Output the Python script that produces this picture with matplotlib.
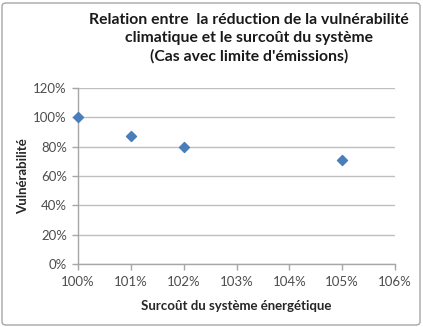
import matplotlib.pyplot as plt
from matplotlib.patches import FancyBboxPatch
from matplotlib.ticker import PercentFormatter

# Data: system extra cost vs climate vulnerability
surcout = [1.00, 1.01, 1.02, 1.05]
vulnerabilite = [1.00, 0.87, 0.80, 0.71]
x_ticks = [1.00, 1.01, 1.02, 1.03, 1.04, 1.05, 1.06]
y_ticks = [0.0, 0.2, 0.4, 0.6, 0.8, 1.0, 1.2]

plt.rcParams['font.family'] = ['Lato', 'DejaVu Sans']

W, H = 423, 327
fig = plt.figure(figsize=(W / 100, H / 100), dpi=100)

# Outer chart frame
frame = FancyBboxPatch((2 / W, 2 / H), (W - 5) / W, (H - 5) / H,
                       boxstyle="round,pad=0,rounding_size=0.01",
                       transform=fig.transFigure, facecolor='white',
                       edgecolor='#a6a6a6', linewidth=1.0, zorder=-5)
fig.patches.append(frame)

left, right, top, bottom = 78, 395, 88, 264
ax = fig.add_axes([left / W, 1 - bottom / H, (right - left) / W, (bottom - top) / H])
ax.set_zorder(2)
ax.set_facecolor('none')

ax.scatter(surcout, vulnerabilite, marker='D', s=26, color='#4a7ebb',
           edgecolors='#4a7ebb', zorder=3, clip_on=False)

ax.set_xlim(1.00, 1.06)
ax.set_ylim(0, 1.2)
ax.set_xticks(x_ticks)
ax.set_yticks(y_ticks)
ax.xaxis.set_major_formatter(PercentFormatter(1.0, decimals=0))
ax.yaxis.set_major_formatter(PercentFormatter(1.0, decimals=0))

ax.grid(axis='y', color='#bfbfbf', linewidth=1.0)
ax.set_axisbelow(True)
for s in ['top', 'right']:
    ax.spines[s].set_visible(False)
for s in ['left', 'bottom']:
    ax.spines[s].set_color('#a6a6a6')
    ax.spines[s].set_linewidth(1.0)

ax.tick_params(axis='both', colors='#a6a6a6', labelcolor='#4d4d4d',
               labelsize=9.5, length=4, width=1.0, direction='out')
ax.tick_params(axis='x', pad=5)
ax.tick_params(axis='y', pad=4)

ax.set_xlabel('Surcoût du système énergétique', fontsize=9.5,
              fontweight='bold', color='#262626', labelpad=8)
ax.set_ylabel('Vulnérabilité', fontsize=9.5, fontweight='bold',
              color='#262626', labelpad=3)

fig.text(249 / W, 1 - 38 / H,
         "Relation entre  la réduction de la vulnérabilité\n"
         "climatique et le surcoût du système\n"
         "(Cas avec limite d'émissions)",
         ha='center', va='center', fontsize=11.3, fontweight='bold',
         color='#1a1a1a', linespacing=1.35)

fig.savefig('out.png', dpi=100)
